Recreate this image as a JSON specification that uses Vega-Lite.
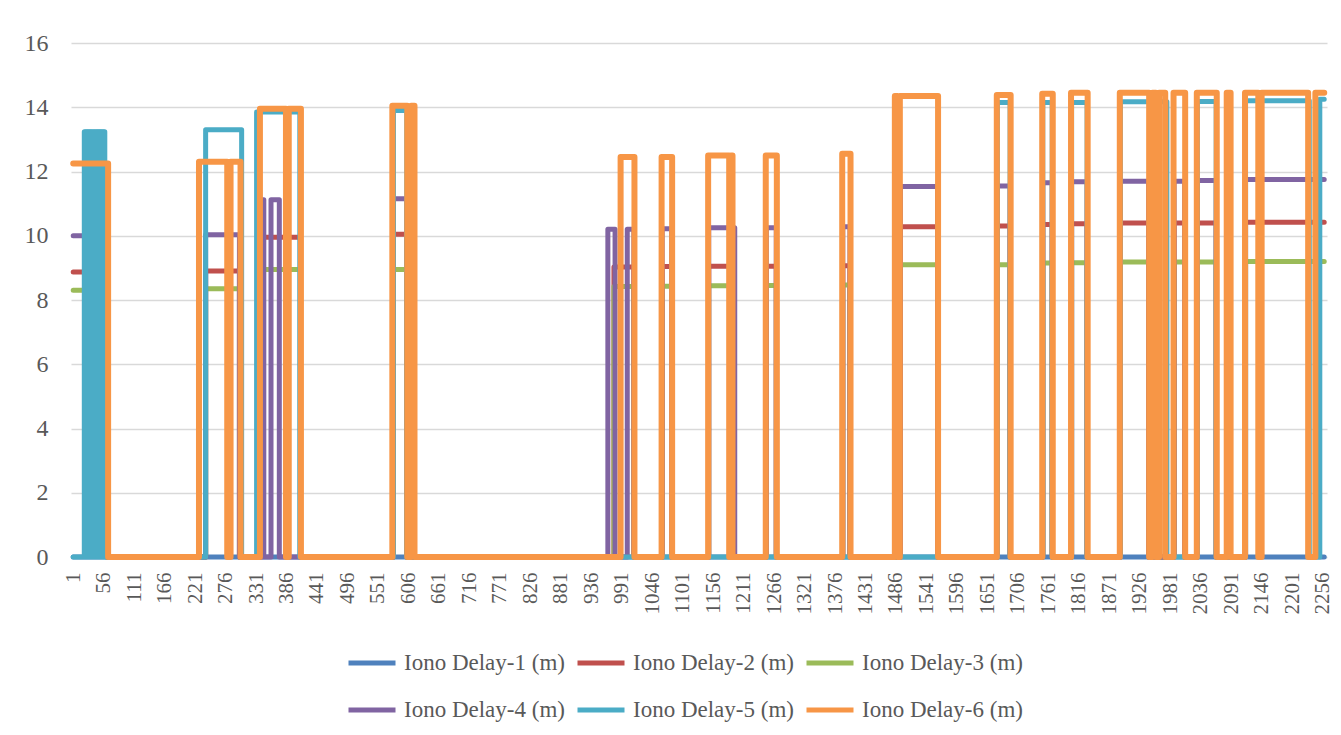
{
  "$schema": "https://vega.github.io/schema/vega-lite/v6.json",
  "width": 1256,
  "height": 514,
  "autosize": {"type": "none"},
  "padding": {"left": 71, "top": 43, "right": 14, "bottom": 178},
  "background": "white",
  "config": {
    "view": {"stroke": null},
    "font": "Liberation Serif"
  },
  "data": {
    "values": [
      {"s": "Iono Delay-1 (m)", "i": 1, "v": 0},
      {"s": "Iono Delay-1 (m)", "i": 2259, "v": 0},

      {"s": "Iono Delay-2 (m)", "i": 1, "v": 8.87},
      {"s": "Iono Delay-2 (m)", "i": 62, "v": 0},
      {"s": "Iono Delay-2 (m)", "i": 240, "v": 8.9},
      {"s": "Iono Delay-2 (m)", "i": 301, "v": 0},
      {"s": "Iono Delay-2 (m)", "i": 338, "v": 9.95},
      {"s": "Iono Delay-2 (m)", "i": 411, "v": 0},
      {"s": "Iono Delay-2 (m)", "i": 579, "v": 10.05},
      {"s": "Iono Delay-2 (m)", "i": 603, "v": 0},
      {"s": "Iono Delay-2 (m)", "i": 977, "v": 9.03},
      {"s": "Iono Delay-2 (m)", "i": 1013, "v": 0},
      {"s": "Iono Delay-2 (m)", "i": 1064, "v": 9.04},
      {"s": "Iono Delay-2 (m)", "i": 1081, "v": 0},
      {"s": "Iono Delay-2 (m)", "i": 1148, "v": 9.05},
      {"s": "Iono Delay-2 (m)", "i": 1190, "v": 0},
      {"s": "Iono Delay-2 (m)", "i": 1252, "v": 9.05},
      {"s": "Iono Delay-2 (m)", "i": 1270, "v": 0},
      {"s": "Iono Delay-2 (m)", "i": 1390, "v": 9.07},
      {"s": "Iono Delay-2 (m)", "i": 1403, "v": 0},
      {"s": "Iono Delay-2 (m)", "i": 1494, "v": 10.28},
      {"s": "Iono Delay-2 (m)", "i": 1561, "v": 0},
      {"s": "Iono Delay-2 (m)", "i": 1669, "v": 10.3},
      {"s": "Iono Delay-2 (m)", "i": 1692, "v": 0},
      {"s": "Iono Delay-2 (m)", "i": 1751, "v": 10.35},
      {"s": "Iono Delay-2 (m)", "i": 1768, "v": 0},
      {"s": "Iono Delay-2 (m)", "i": 1803, "v": 10.37},
      {"s": "Iono Delay-2 (m)", "i": 1831, "v": 0},
      {"s": "Iono Delay-2 (m)", "i": 1891, "v": 10.4},
      {"s": "Iono Delay-2 (m)", "i": 1942, "v": 0},
      {"s": "Iono Delay-2 (m)", "i": 1988, "v": 10.4},
      {"s": "Iono Delay-2 (m)", "i": 2007, "v": 0},
      {"s": "Iono Delay-2 (m)", "i": 2030, "v": 10.4},
      {"s": "Iono Delay-2 (m)", "i": 2064, "v": 0},
      {"s": "Iono Delay-2 (m)", "i": 2117, "v": 10.42},
      {"s": "Iono Delay-2 (m)", "i": 2259, "v": 10.42},

      {"s": "Iono Delay-3 (m)", "i": 1, "v": 8.3},
      {"s": "Iono Delay-3 (m)", "i": 62, "v": 0},
      {"s": "Iono Delay-3 (m)", "i": 240, "v": 8.35},
      {"s": "Iono Delay-3 (m)", "i": 301, "v": 0},
      {"s": "Iono Delay-3 (m)", "i": 338, "v": 8.95},
      {"s": "Iono Delay-3 (m)", "i": 411, "v": 0},
      {"s": "Iono Delay-3 (m)", "i": 579, "v": 8.95},
      {"s": "Iono Delay-3 (m)", "i": 603, "v": 0},
      {"s": "Iono Delay-3 (m)", "i": 977, "v": 8.42},
      {"s": "Iono Delay-3 (m)", "i": 1013, "v": 0},
      {"s": "Iono Delay-3 (m)", "i": 1064, "v": 8.43},
      {"s": "Iono Delay-3 (m)", "i": 1081, "v": 0},
      {"s": "Iono Delay-3 (m)", "i": 1148, "v": 8.44},
      {"s": "Iono Delay-3 (m)", "i": 1190, "v": 0},
      {"s": "Iono Delay-3 (m)", "i": 1252, "v": 8.45},
      {"s": "Iono Delay-3 (m)", "i": 1270, "v": 0},
      {"s": "Iono Delay-3 (m)", "i": 1390, "v": 8.47},
      {"s": "Iono Delay-3 (m)", "i": 1403, "v": 0},
      {"s": "Iono Delay-3 (m)", "i": 1494, "v": 9.1},
      {"s": "Iono Delay-3 (m)", "i": 1561, "v": 0},
      {"s": "Iono Delay-3 (m)", "i": 1669, "v": 9.1},
      {"s": "Iono Delay-3 (m)", "i": 1692, "v": 0},
      {"s": "Iono Delay-3 (m)", "i": 1751, "v": 9.15},
      {"s": "Iono Delay-3 (m)", "i": 1768, "v": 0},
      {"s": "Iono Delay-3 (m)", "i": 1803, "v": 9.16},
      {"s": "Iono Delay-3 (m)", "i": 1831, "v": 0},
      {"s": "Iono Delay-3 (m)", "i": 1891, "v": 9.18},
      {"s": "Iono Delay-3 (m)", "i": 1942, "v": 0},
      {"s": "Iono Delay-3 (m)", "i": 1988, "v": 9.18},
      {"s": "Iono Delay-3 (m)", "i": 2007, "v": 0},
      {"s": "Iono Delay-3 (m)", "i": 2030, "v": 9.18},
      {"s": "Iono Delay-3 (m)", "i": 2064, "v": 0},
      {"s": "Iono Delay-3 (m)", "i": 2117, "v": 9.2},
      {"s": "Iono Delay-3 (m)", "i": 2259, "v": 9.2},

      {"s": "Iono Delay-4 (m)", "i": 1, "v": 10.0},
      {"s": "Iono Delay-4 (m)", "i": 62, "v": 0},
      {"s": "Iono Delay-4 (m)", "i": 240, "v": 10.03},
      {"s": "Iono Delay-4 (m)", "i": 301, "v": 0},
      {"s": "Iono Delay-4 (m)", "i": 344, "v": 11.12},
      {"s": "Iono Delay-4 (m)", "i": 345, "v": 0},
      {"s": "Iono Delay-4 (m)", "i": 358, "v": 11.12},
      {"s": "Iono Delay-4 (m)", "i": 373, "v": 0},
      {"s": "Iono Delay-4 (m)", "i": 579, "v": 11.15},
      {"s": "Iono Delay-4 (m)", "i": 603, "v": 0},
      {"s": "Iono Delay-4 (m)", "i": 966, "v": 10.2},
      {"s": "Iono Delay-4 (m)", "i": 979, "v": 0},
      {"s": "Iono Delay-4 (m)", "i": 1001, "v": 10.2},
      {"s": "Iono Delay-4 (m)", "i": 1013, "v": 0},
      {"s": "Iono Delay-4 (m)", "i": 1064, "v": 10.22},
      {"s": "Iono Delay-4 (m)", "i": 1081, "v": 0},
      {"s": "Iono Delay-4 (m)", "i": 1148, "v": 10.25},
      {"s": "Iono Delay-4 (m)", "i": 1195, "v": 0},
      {"s": "Iono Delay-4 (m)", "i": 1252, "v": 10.25},
      {"s": "Iono Delay-4 (m)", "i": 1270, "v": 0},
      {"s": "Iono Delay-4 (m)", "i": 1390, "v": 10.28},
      {"s": "Iono Delay-4 (m)", "i": 1403, "v": 0},
      {"s": "Iono Delay-4 (m)", "i": 1494, "v": 11.53},
      {"s": "Iono Delay-4 (m)", "i": 1561, "v": 0},
      {"s": "Iono Delay-4 (m)", "i": 1669, "v": 11.55},
      {"s": "Iono Delay-4 (m)", "i": 1692, "v": 0},
      {"s": "Iono Delay-4 (m)", "i": 1751, "v": 11.65},
      {"s": "Iono Delay-4 (m)", "i": 1768, "v": 0},
      {"s": "Iono Delay-4 (m)", "i": 1803, "v": 11.68},
      {"s": "Iono Delay-4 (m)", "i": 1831, "v": 0},
      {"s": "Iono Delay-4 (m)", "i": 1891, "v": 11.7},
      {"s": "Iono Delay-4 (m)", "i": 1942, "v": 0},
      {"s": "Iono Delay-4 (m)", "i": 1988, "v": 11.7},
      {"s": "Iono Delay-4 (m)", "i": 2007, "v": 0},
      {"s": "Iono Delay-4 (m)", "i": 2030, "v": 11.72},
      {"s": "Iono Delay-4 (m)", "i": 2064, "v": 0},
      {"s": "Iono Delay-4 (m)", "i": 2117, "v": 11.75},
      {"s": "Iono Delay-4 (m)", "i": 2259, "v": 11.75},

      {"s": "Iono Delay-5 (m)", "i": 1, "v": 0},
      {"s": "Iono Delay-5 (m)", "i": 21, "v": 13.24},
      {"s": "Iono Delay-5 (m)", "i": 22, "v": 0},
      {"s": "Iono Delay-5 (m)", "i": 23, "v": 13.24},
      {"s": "Iono Delay-5 (m)", "i": 24, "v": 0},
      {"s": "Iono Delay-5 (m)", "i": 25, "v": 13.24},
      {"s": "Iono Delay-5 (m)", "i": 26, "v": 0},
      {"s": "Iono Delay-5 (m)", "i": 27, "v": 13.24},
      {"s": "Iono Delay-5 (m)", "i": 28, "v": 0},
      {"s": "Iono Delay-5 (m)", "i": 29, "v": 13.24},
      {"s": "Iono Delay-5 (m)", "i": 30, "v": 0},
      {"s": "Iono Delay-5 (m)", "i": 31, "v": 13.24},
      {"s": "Iono Delay-5 (m)", "i": 32, "v": 0},
      {"s": "Iono Delay-5 (m)", "i": 33, "v": 13.24},
      {"s": "Iono Delay-5 (m)", "i": 34, "v": 0},
      {"s": "Iono Delay-5 (m)", "i": 35, "v": 13.24},
      {"s": "Iono Delay-5 (m)", "i": 36, "v": 0},
      {"s": "Iono Delay-5 (m)", "i": 37, "v": 13.24},
      {"s": "Iono Delay-5 (m)", "i": 38, "v": 0},
      {"s": "Iono Delay-5 (m)", "i": 39, "v": 13.24},
      {"s": "Iono Delay-5 (m)", "i": 40, "v": 0},
      {"s": "Iono Delay-5 (m)", "i": 41, "v": 13.24},
      {"s": "Iono Delay-5 (m)", "i": 42, "v": 0},
      {"s": "Iono Delay-5 (m)", "i": 43, "v": 13.24},
      {"s": "Iono Delay-5 (m)", "i": 44, "v": 0},
      {"s": "Iono Delay-5 (m)", "i": 45, "v": 13.24},
      {"s": "Iono Delay-5 (m)", "i": 46, "v": 0},
      {"s": "Iono Delay-5 (m)", "i": 47, "v": 13.24},
      {"s": "Iono Delay-5 (m)", "i": 48, "v": 0},
      {"s": "Iono Delay-5 (m)", "i": 49, "v": 13.24},
      {"s": "Iono Delay-5 (m)", "i": 50, "v": 0},
      {"s": "Iono Delay-5 (m)", "i": 51, "v": 13.24},
      {"s": "Iono Delay-5 (m)", "i": 52, "v": 0},
      {"s": "Iono Delay-5 (m)", "i": 53, "v": 13.24},
      {"s": "Iono Delay-5 (m)", "i": 54, "v": 0},
      {"s": "Iono Delay-5 (m)", "i": 55, "v": 13.24},
      {"s": "Iono Delay-5 (m)", "i": 56, "v": 0},
      {"s": "Iono Delay-5 (m)", "i": 57, "v": 13.24},
      {"s": "Iono Delay-5 (m)", "i": 58, "v": 0},
      {"s": "Iono Delay-5 (m)", "i": 240, "v": 13.3},
      {"s": "Iono Delay-5 (m)", "i": 305, "v": 0},
      {"s": "Iono Delay-5 (m)", "i": 332, "v": 13.85},
      {"s": "Iono Delay-5 (m)", "i": 410, "v": 0},
      {"s": "Iono Delay-5 (m)", "i": 579, "v": 13.9},
      {"s": "Iono Delay-5 (m)", "i": 603, "v": 0},
      {"s": "Iono Delay-5 (m)", "i": 1669, "v": 14.15},
      {"s": "Iono Delay-5 (m)", "i": 1692, "v": 0},
      {"s": "Iono Delay-5 (m)", "i": 1751, "v": 14.15},
      {"s": "Iono Delay-5 (m)", "i": 1768, "v": 0},
      {"s": "Iono Delay-5 (m)", "i": 1803, "v": 14.15},
      {"s": "Iono Delay-5 (m)", "i": 1831, "v": 0},
      {"s": "Iono Delay-5 (m)", "i": 1891, "v": 14.17},
      {"s": "Iono Delay-5 (m)", "i": 1975, "v": 0},
      {"s": "Iono Delay-5 (m)", "i": 2030, "v": 14.18},
      {"s": "Iono Delay-5 (m)", "i": 2064, "v": 0},
      {"s": "Iono Delay-5 (m)", "i": 2117, "v": 14.2},
      {"s": "Iono Delay-5 (m)", "i": 2232, "v": 0},
      {"s": "Iono Delay-5 (m)", "i": 2251, "v": 14.25},
      {"s": "Iono Delay-5 (m)", "i": 2259, "v": 14.25},

      {"s": "Iono Delay-6 (m)", "i": 1, "v": 12.25},
      {"s": "Iono Delay-6 (m)", "i": 64, "v": 0},
      {"s": "Iono Delay-6 (m)", "i": 228, "v": 12.3},
      {"s": "Iono Delay-6 (m)", "i": 279, "v": 0},
      {"s": "Iono Delay-6 (m)", "i": 285, "v": 12.3},
      {"s": "Iono Delay-6 (m)", "i": 303, "v": 0},
      {"s": "Iono Delay-6 (m)", "i": 338, "v": 13.95},
      {"s": "Iono Delay-6 (m)", "i": 385, "v": 0},
      {"s": "Iono Delay-6 (m)", "i": 390, "v": 13.95},
      {"s": "Iono Delay-6 (m)", "i": 412, "v": 0},
      {"s": "Iono Delay-6 (m)", "i": 577, "v": 14.05},
      {"s": "Iono Delay-6 (m)", "i": 604, "v": 0},
      {"s": "Iono Delay-6 (m)", "i": 611, "v": 14.05},
      {"s": "Iono Delay-6 (m)", "i": 617, "v": 0},
      {"s": "Iono Delay-6 (m)", "i": 989, "v": 12.45},
      {"s": "Iono Delay-6 (m)", "i": 1014, "v": 0},
      {"s": "Iono Delay-6 (m)", "i": 1063, "v": 12.45},
      {"s": "Iono Delay-6 (m)", "i": 1082, "v": 0},
      {"s": "Iono Delay-6 (m)", "i": 1147, "v": 12.5},
      {"s": "Iono Delay-6 (m)", "i": 1185, "v": 0},
      {"s": "Iono Delay-6 (m)", "i": 1188, "v": 12.5},
      {"s": "Iono Delay-6 (m)", "i": 1191, "v": 0},
      {"s": "Iono Delay-6 (m)", "i": 1251, "v": 12.5},
      {"s": "Iono Delay-6 (m)", "i": 1271, "v": 0},
      {"s": "Iono Delay-6 (m)", "i": 1389, "v": 12.55},
      {"s": "Iono Delay-6 (m)", "i": 1404, "v": 0},
      {"s": "Iono Delay-6 (m)", "i": 1484, "v": 14.35},
      {"s": "Iono Delay-6 (m)", "i": 1489, "v": 0},
      {"s": "Iono Delay-6 (m)", "i": 1493, "v": 14.35},
      {"s": "Iono Delay-6 (m)", "i": 1562, "v": 0},
      {"s": "Iono Delay-6 (m)", "i": 1668, "v": 14.38},
      {"s": "Iono Delay-6 (m)", "i": 1693, "v": 0},
      {"s": "Iono Delay-6 (m)", "i": 1750, "v": 14.42},
      {"s": "Iono Delay-6 (m)", "i": 1769, "v": 0},
      {"s": "Iono Delay-6 (m)", "i": 1802, "v": 14.45},
      {"s": "Iono Delay-6 (m)", "i": 1832, "v": 0},
      {"s": "Iono Delay-6 (m)", "i": 1890, "v": 14.45},
      {"s": "Iono Delay-6 (m)", "i": 1943, "v": 0},
      {"s": "Iono Delay-6 (m)", "i": 1949, "v": 14.45},
      {"s": "Iono Delay-6 (m)", "i": 1955, "v": 0},
      {"s": "Iono Delay-6 (m)", "i": 1961, "v": 14.45},
      {"s": "Iono Delay-6 (m)", "i": 1972, "v": 0},
      {"s": "Iono Delay-6 (m)", "i": 1987, "v": 14.45},
      {"s": "Iono Delay-6 (m)", "i": 2008, "v": 0},
      {"s": "Iono Delay-6 (m)", "i": 2029, "v": 14.45},
      {"s": "Iono Delay-6 (m)", "i": 2065, "v": 0},
      {"s": "Iono Delay-6 (m)", "i": 2083, "v": 14.45},
      {"s": "Iono Delay-6 (m)", "i": 2090, "v": 0},
      {"s": "Iono Delay-6 (m)", "i": 2116, "v": 14.45},
      {"s": "Iono Delay-6 (m)", "i": 2140, "v": 0},
      {"s": "Iono Delay-6 (m)", "i": 2146, "v": 14.45},
      {"s": "Iono Delay-6 (m)", "i": 2230, "v": 0},
      {"s": "Iono Delay-6 (m)", "i": 2243, "v": 14.45},
      {"s": "Iono Delay-6 (m)", "i": 2259, "v": 14.45}
    ]
  },
  "mark": {
    "type": "line",
    "interpolate": "step-after",
    "strokeCap": "round",
    "strokeJoin": "round"
  },
  "encoding": {
    "x": {
      "field": "i",
      "type": "quantitative",
      "scale": {"domain": [-3, 2264], "nice": false, "zero": false},
      "axis": {
        "title": null,
        "format": "d",
        "values": [1, 56, 111, 166, 221, 276, 331, 386, 441, 496, 551, 606, 661, 716, 771, 826, 881, 936, 991, 1046, 1101, 1156, 1211, 1266, 1321, 1376, 1431, 1486, 1541, 1596, 1651, 1706, 1761, 1816, 1871, 1926, 1981, 2036, 2091, 2146, 2201, 2256],
        "labelAngle": -90,
        "labelFont": "Liberation Serif",
        "labelFontSize": 21,
        "labelColor": "#595959",
        "labelPadding": 15,
        "labelOverlap": false,
        "labelFlush": false,
        "labelBound": false,
        "ticks": false,
        "domain": false,
        "grid": false
      }
    },
    "y": {
      "field": "v",
      "type": "quantitative",
      "scale": {"domain": [0, 16], "nice": false},
      "axis": {
        "title": null,
        "values": [0, 2, 4, 6, 8, 10, 12, 14, 16],
        "labelFont": "Liberation Serif",
        "labelFontSize": 24,
        "labelColor": "#595959",
        "labelPadding": 23,
        "ticks": false,
        "domain": false,
        "grid": true,
        "gridColor": "#D9D9D9",
        "gridWidth": 1.5
      }
    },
    "color": {
      "field": "s",
      "type": "nominal",
      "scale": {
        "domain": ["Iono Delay-1 (m)", "Iono Delay-2 (m)", "Iono Delay-3 (m)", "Iono Delay-4 (m)", "Iono Delay-5 (m)", "Iono Delay-6 (m)"],
        "range": ["#4F81BD", "#C0504D", "#9BBB59", "#8064A2", "#4BACC6", "#F79646"]
      },
      "legend": {
        "title": null,
        "orient": "none",
        "legendX": 275,
        "legendY": 594,
        "direction": "horizontal",
        "columns": 3,
        "columnPadding": 2,
        "rowPadding": 9,
        "symbolType": "stroke",
        "symbolSize": 2209,
        "symbolStrokeWidth": 5,
        "labelFont": "Liberation Serif",
        "labelFontSize": 23,
        "labelColor": "#595959",
        "labelOffset": 6,
        "labelLimit": 400
      }
    },
    "strokeWidth": {
      "condition": {"test": "datum.s === 'Iono Delay-6 (m)'", "value": 6},
      "value": 5
    },
    "order": {"field": "i", "type": "quantitative"}
  }
}
